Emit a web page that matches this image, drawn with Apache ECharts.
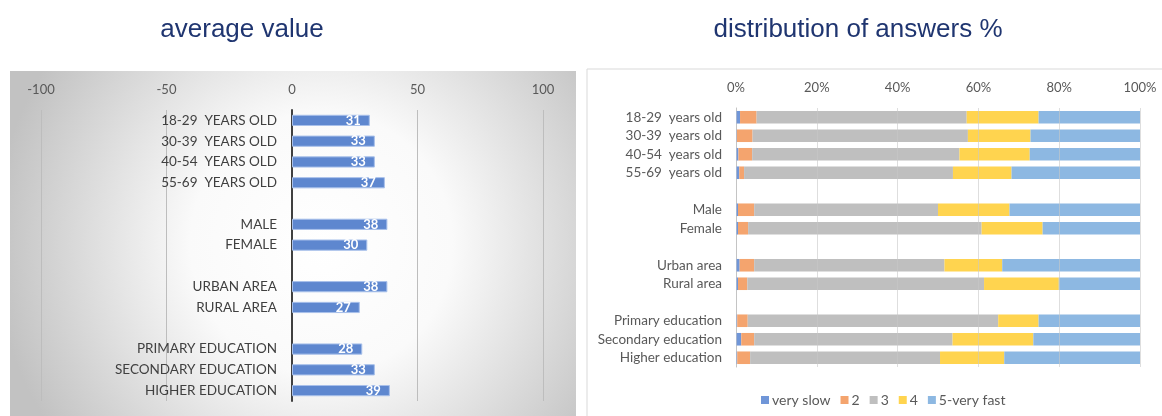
<!DOCTYPE html>
<html><head><meta charset="utf-8">
<script src="https://cdn.jsdelivr.net/npm/echarts@6/dist/echarts.min.js"></script>
<style>html,body{margin:0;padding:0;background:#fff}#c{width:1162px;height:416px}</style>
</head><body><div id="c"></div>
<script>
// ---- data ----
const leftCategories = ['18-29  YEARS OLD','30-39  YEARS OLD','40-54  YEARS OLD','55-69  YEARS OLD',' ',
  'MALE','FEMALE','  ','URBAN AREA','RURAL AREA','   ','PRIMARY EDUCATION','SECONDARY EDUCATION','HIGHER EDUCATION'];
const averageValues = [31,33,33,37,null,38,30,null,38,27,null,28,33,39];
const leftTicks = [-100,-50,0,50,100];

const rightCategories = ['18-29  years old','30-39  years old','40-54  years old','55-69  years old',' ',
  'Male','Female','  ','Urban area','Rural area','   ','Primary education','Secondary education','Higher education'];
const seriesNames = ['very slow','2','3','4','5-very fast'];
const verySlow = [1.0,0.2,0.6,0.8,null,0.5,0.5,null,0.9,0.5,null,0.3,1.3,0.3];
const two      = [4.1,3.9,3.4,1.2,null,4.0,2.5,null,3.6,2.3,null,2.6,3.2,3.2];
const three    = [52.0,53.3,51.3,51.7,null,45.5,57.8,null,47.1,58.6,null,62.0,49.1,47.0];
const four     = [17.8,15.5,17.4,14.5,null,17.7,15.1,null,14.3,18.5,null,10.0,20.0,15.9];
const five     = [25.1,27.1,27.3,31.8,null,32.3,24.1,null,34.1,20.1,null,25.1,26.4,33.6];
const pctTicks = [0,20,40,60,80,100];

const stackColors = ['#7096D8','#F4A46E','#BFBFBF','#FFD44F','#8DB8E2'];
const FONT = 'Lato, "Open Sans", sans-serif';

const chart = echarts.init(document.getElementById('c'));
const stackData = [verySlow,two,three,four,five];

// left grid geometry: -100 .. 100 maps to 41 .. 543, so the zero axis sits 251px right of grid left
const LEFT_GRID_L = 41, LEFT_GRID_W = 502;

chart.setOption({
  animation:false,
  graphic:[
    {type:'rect', shape:{x:10,y:71,width:566,height:345}, z:-10, silent:true,
     style:{fill:{type:'radial',x:0.55,y:0.5,r:0.95,colorStops:[{offset:0,color:'#ffffff'},{offset:0.4,color:'#fafafa'},{offset:1,color:'#c2c2c2'}]}}},
    {type:'rect', shape:{x:587,y:69,width:580,height:352}, z:-10, silent:true,
     style:{fill:'#ffffff',stroke:'#D9D9D9',lineWidth:1}}
  ],
  title:[
    {text:'average value', left:237, top:12, textAlign:'center',
     textStyle:{fontFamily:'"Liberation Sans", Arial, sans-serif',fontSize:26,fontWeight:'normal',color:'#1F3570'}},
    {text:'distribution of answers %', left:853, top:12, textAlign:'center',
     textStyle:{fontFamily:'"Liberation Sans", Arial, sans-serif',fontSize:26,fontWeight:'normal',color:'#1F3570'}}
  ],
  legend:{
    data:seriesNames, left:756, top:388,
    icon:'rect', itemWidth:8, itemHeight:8, itemGap:10,
    textStyle:{fontFamily:FONT,fontSize:14,color:'#595959',padding:[0,0,0,-2]}
  },
  grid:[
    {left:LEFT_GRID_L, width:LEFT_GRID_W, top:110, height:291, outerBoundsMode:'none', containLabel:false},
    {left:736, right:22, top:108, height:259, outerBoundsMode:'none', containLabel:false}
  ],
  xAxis:[
    {type:'value', gridIndex:0, position:'top', min:-100, max:100, interval:50,
     axisLine:{show:false}, axisTick:{show:false},
     axisLabel:{margin:14,fontFamily:FONT,fontSize:13,color:'#595959'},
     splitLine:{lineStyle:{color:'#BDBDBD',width:1}}},
    {type:'value', gridIndex:1, position:'top', min:0, max:100, interval:20, z:10,
     axisLine:{show:false}, axisTick:{show:false},
     axisLabel:{margin:14,fontFamily:FONT,fontSize:13,color:'#595959',formatter:v=>v+'%'},
     splitLine:{lineStyle:{color:'rgba(200,200,200,0.6)',width:1}}}
  ],
  yAxis:[
    {type:'category', gridIndex:0, data:leftCategories, inverse:true, position:'left',
     offset:-LEFT_GRID_W/2,
     axisLine:{onZero:false, lineStyle:{color:'#404040',width:2}}, axisTick:{show:false},
     axisLabel:{margin:15,fontFamily:FONT,fontSize:13.5,color:'#404040'}},
    {type:'category', gridIndex:1, data:rightCategories, inverse:true,
     axisLine:{lineStyle:{color:'#BFBFBF',width:1}}, axisTick:{show:false},
     axisLabel:{margin:14,fontFamily:FONT,fontSize:13.5,color:'#595959'}}
  ],
  series:[
    {type:'bar', name:'average', xAxisIndex:0, yAxisIndex:0, data:averageValues,
     barCategoryGap:'46%',
     itemStyle:{color:'#5E87CF',borderColor:'#A8C0EA',borderWidth:1},
     label:{show:true,position:'insideRight',distance:9,color:'#ffffff',fontWeight:'bold',fontFamily:FONT,fontSize:13}},
    ...seriesNames.map((n,i)=>({
      type:'bar', name:n, xAxisIndex:1, yAxisIndex:1, stack:'total', data:stackData[i],
      barCategoryGap:'32%', itemStyle:{color:stackColors[i]}
    }))
  ]
});
</script></body></html>
